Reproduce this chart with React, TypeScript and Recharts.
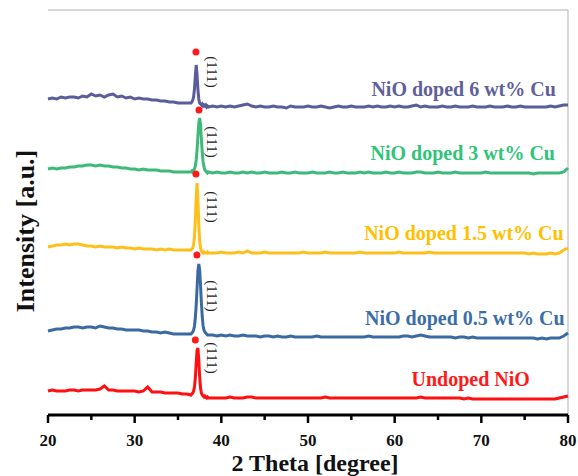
import React from "react";
import {
  LineChart,
  Line,
  XAxis,
  YAxis,
  ReferenceDot,
  ReferenceLine,
} from "recharts";

// 2 theta grid (degree)
const twoTheta = [
  20, 20.5, 21, 21.5, 22, 22.5, 23, 23.5, 24, 24.5,
  25, 25.5, 26, 26.5, 27, 27.5, 28, 28.5, 29, 29.5,
  30, 30.5, 31, 31.5, 32, 32.5, 33, 33.5, 34, 34.5,
  35, 35.5, 36,
  36.5, 36.6, 36.7, 36.8, 36.9, 37.0, 37.1, 37.2, 37.3, 37.4,
  37.5, 37.6, 37.7, 37.8, 37.9, 38.0, 38.1, 38.2, 38.3, 38.4,
  38.5,
  39, 39.5, 40, 40.5, 41, 41.5, 42, 42.5, 43, 43.5,
  44, 44.5, 45, 45.5, 46, 46.5, 47, 47.5, 48, 48.5,
  49, 49.5, 50, 50.5, 51, 51.5, 52, 52.5, 53, 53.5,
  54, 54.5, 55, 55.5, 56, 56.5, 57, 57.5, 58, 58.5,
  59, 59.5, 60, 60.5, 61, 61.5, 62, 62.5, 63, 63.5,
  64, 64.5, 65, 65.5, 66, 66.5, 67, 67.5, 68, 68.5,
  69, 69.5, 70, 70.5, 71, 71.5, 72, 72.5, 73, 73.5,
  74, 74.5, 75, 75.5, 76, 76.5, 77, 77.5, 78, 78.5,
  79, 79.5, 80,
];

// stacked intensities (a.u., offset per sample)
const cu6 = [
  316, 317, 316, 318, 317, 318, 318, 317, 319, 318,
  321, 319, 320, 318, 320, 321, 318, 319, 317, 318,
  316, 317, 316, 316, 315, 315, 314, 314, 313, 313,
  312, 312, 312,
  312, 313, 315, 318, 326, 339, 350, 340, 325, 316,
  312, 311, 310, 311, 309, 310, 309, 310, 308, 309,
  308,
  309, 308, 309, 308, 309, 308, 309, 310, 311, 309,
  308, 309, 308, 308, 309, 308, 308, 307, 309, 308,
  308, 308, 309, 308, 308, 309, 308, 307, 308, 309,
  308, 308, 309, 308, 308, 308, 309, 308, 309, 308,
  308, 309, 308, 309, 308, 308, 309, 310, 308, 309,
  308, 308, 308, 309, 308, 308, 309, 308, 308, 308,
  309, 308, 308, 308, 309, 308, 308, 308, 309, 308,
  308, 309, 308, 308, 308, 308, 308, 308, 309, 308,
  309, 310, 310,
];

const cu3 = [
  246, 247, 246, 247, 247, 248, 248, 249, 249, 250,
  250, 249, 250, 249, 249, 248, 248, 247, 247, 246,
  246, 245, 246, 245, 245, 245, 244, 244, 244, 243,
  243, 243, 243,
  243, 244, 243, 245, 246, 249, 255, 265, 279, 292,
  297, 290, 276, 262, 253, 248, 245, 244, 243, 242,
  243,
  242, 243, 242, 242, 243, 242, 242, 243, 242, 243,
  242, 242, 243, 242, 242, 242, 243, 242, 242, 243,
  242, 242, 242, 243, 242, 242, 242, 243, 242, 242,
  243, 242, 242, 242, 243, 242, 243, 242, 242, 242,
  243, 242, 242, 243, 242, 242, 242, 243, 243, 242,
  242, 242, 243, 242, 242, 242, 243, 242, 242, 242,
  242, 242, 242, 243, 242, 242, 242, 242, 242, 242,
  242, 242, 242, 242, 241, 242, 242, 242, 242, 242,
  242, 243, 247,
];

const cu15 = [
  168, 169, 170, 170, 171, 170, 171, 171, 170, 169,
  169, 168, 169, 168, 168, 168, 167, 168, 167, 167,
  166, 167, 166, 166, 166, 165, 166, 165, 166, 165,
  165, 165, 165,
  165, 166, 167, 170, 178, 195, 218, 232, 214, 190,
  174, 167, 164, 163, 162, 163, 162, 162, 162, 163,
  162,
  162, 162, 163, 162, 162, 162, 163, 162, 164, 162,
  162, 162, 163, 162, 162, 162, 162, 162, 162, 162,
  162, 163, 162, 162, 162, 162, 163, 162, 162, 162,
  162, 162, 162, 162, 163, 162, 162, 162, 162, 162,
  162, 162, 162, 163, 162, 162, 162, 162, 162, 162,
  163, 162, 162, 162, 162, 162, 162, 162, 162, 162,
  162, 162, 162, 162, 162, 162, 162, 162, 162, 162,
  162, 162, 162, 161, 162, 161, 161, 161, 162, 161,
  162, 165, 167,
];

const cu05 = [
  84, 85, 86, 86, 87, 87, 88, 88, 87, 88,
  88, 87, 89, 88, 87, 87, 86, 86, 85, 85,
  85, 85, 84, 84, 83, 83, 82, 83, 82, 81,
  81, 81, 81,
  81, 82, 83, 85, 89, 97, 110, 127, 144, 151,
  145, 130, 112, 98, 89, 85, 83, 82, 81, 80,
  80,
  80, 79, 80, 79, 80, 79, 79, 80, 79, 79,
  79, 78, 79, 79, 78, 79, 78, 78, 79, 78,
  78, 78, 78, 78, 79, 78, 78, 78, 78, 78,
  78, 78, 78, 78, 78, 78, 79, 78, 78, 78,
  78, 78, 78, 78, 79, 79, 78, 79, 80, 79,
  78, 78, 78, 78, 78, 78, 77, 78, 78, 77,
  78, 77, 77, 77, 77, 77, 77, 77, 77, 77,
  77, 77, 77, 77, 77, 76, 77, 76, 77, 77,
  77, 79, 82,
];

const undoped = [
  24, 25, 24, 24, 24, 25, 25, 24, 25, 25,
  25, 25, 26, 29, 25, 25, 24, 24, 24, 24,
  24, 23, 24, 28, 23, 23, 23, 22, 22, 22,
  22, 21, 21,
  20, 21, 22, 24, 28, 37, 52, 65, 67, 55,
  38, 27, 22, 20, 19, 18, 19, 18, 17, 18,
  17,
  17, 17, 17, 17, 18, 17, 17, 17, 18, 18,
  17, 17, 17, 17, 17, 17, 17, 17, 17, 17,
  17, 17, 17, 17, 17, 17, 18, 17, 17, 17,
  17, 17, 17, 17, 17, 17, 17, 17, 17, 17,
  17, 17, 17, 17, 17, 17, 17, 17, 18, 17,
  17, 17, 17, 17, 17, 17, 17, 17, 16, 17,
  16, 16, 16, 16, 16, 16, 16, 16, 16, 16,
  16, 16, 16, 16, 16, 16, 16, 16, 16, 16,
  17, 18, 19,
];

const seriesKeys = ["cu6", "cu3", "cu15", "cu05", "undoped"];
const seriesNames = [
  "NiO doped 6 wt% Cu",
  "NiO doped 3 wt% Cu",
  "NiO doped 1.5 wt% Cu",
  "NiO doped 0.5 wt% Cu",
  "Undoped NiO",
];
const lineColors = ["#5b5c9c", "#3dba78", "#fdbf1c", "#3a6aa1", "#ff0f0f"];
const textColors = ["#5f5f9c", "#2fc47a", "#ffc000", "#3b6ea6", "#ff1a1a"];

// (111) peak markers
const markTheta = [37.07, 37.42, 37.07, 37.18, 37.0];
const markValue = [363, 305, 241, 160, 75];
const hklTheta = 38.9;
const hklValue = [343, 273, 208, 119, 57];

// sample name positions (right end, middle)
const nameTheta = [78.6, 78.5, 79.5, 79.6, 75.6];
const nameValue = [326, 262, 182, 97, 36];

const xTicks = [20, 25, 30, 35, 40, 45, 50, 55, 60, 65, 70, 75, 80];

const data = twoTheta.map((t, i) => ({
  t,
  cu6: cu6[i],
  cu3: cu3[i],
  cu15: cu15[i],
  cu05: cu05[i],
  undoped: undoped[i],
}));

const serif = '"Liberation Serif", "Times New Roman", serif';

const AxisTick = (props: any) => {
  const { x, y, payload } = props;
  const major = payload.value % 10 === 0;
  return (
    <g>
      <line x1={x} y1={y} x2={x} y2={y + (major ? 8 : 5)} stroke="#000" strokeWidth={2.5} />
      {major && (
        <text
          x={x}
          y={y + 31}
          textAnchor="middle"
          fontFamily={serif}
          fontWeight="bold"
          fontSize={17}
          fill="#111"
        >
          {payload.value}
        </text>
      )}
    </g>
  );
};

const AxisTitles = () => (
  <g fontFamily={serif} fontWeight="bold" fill="#111">
    <text x={315} y={471} textAnchor="middle" fontSize={24}>
      2 Theta [degree]
    </text>
    <text
      transform="translate(34,231) rotate(-90)"
      textAnchor="middle"
      fontSize={26}
    >
      Intensity [a.u.]
    </text>
  </g>
);

export default function App() {
  return (
    <div style={{ position: "absolute", left: 0, top: 0, background: "#fff" }}>
      <LineChart
        width={578}
        height={476}
        data={data}
        margin={{ top: 10, right: 10, bottom: 0, left: 48 }}
      >
        <ReferenceLine y={405} stroke="#b0b0b0" strokeWidth={1} />
        <ReferenceLine x={80} stroke="#b0b0b0" strokeWidth={1} />
        <XAxis
          dataKey="t"
          type="number"
          domain={[20, 80]}
          ticks={xTicks}
          interval={0}
          tick={<AxisTick />}
          tickLine={false}
          tickSize={0}
          tickMargin={0}
          height={61}
          axisLine={{ stroke: "#000", strokeWidth: 3 }}
          label={{ content: AxisTitles }}
        />
        <YAxis
          type="number"
          domain={[0, 405]}
          width={0}
          tick={false}
          tickLine={false}
          axisLine={{ stroke: "#000", strokeWidth: 3 }}
        />
        {seriesKeys.map((k, i) => (
          <Line
            key={k}
            type="linear"
            dataKey={k}
            stroke={lineColors[i]}
            strokeWidth={3}
            dot={false}
            activeDot={false}
            isAnimationActive={false}
          />
        ))}
        {markTheta.map((t, i) => (
          <ReferenceDot
            key={"m" + i}
            x={t}
            y={markValue[i]}
            r={3.5}
            fill="#ff1a1a"
            stroke="none"
          />
        ))}
        {hklValue.map((v, i) => (
          <ReferenceDot
            key={"h" + i}
            x={hklTheta}
            y={v}
            r={0}
            shape={(p: any) => (
              <text
                transform={`translate(${p.cx},${p.cy}) rotate(90)`}
                textAnchor="middle"
                dominantBaseline="central"
                fontFamily={serif}
                fontSize={15}
                fill="#222"
              >
                (111)
              </text>
            )}
          />
        ))}
        {nameTheta.map((t, i) => (
          <ReferenceDot
            key={"n" + i}
            x={t}
            y={nameValue[i]}
            r={0}
            shape={(p: any) => (
              <text
                x={p.cx}
                y={p.cy}
                textAnchor="end"
                dominantBaseline="central"
                fontFamily={serif}
                fontWeight="bold"
                fontSize={20}
                fill={textColors[i]}
              >
                {seriesNames[i]}
              </text>
            )}
          />
        ))}
      </LineChart>
    </div>
  );
}
